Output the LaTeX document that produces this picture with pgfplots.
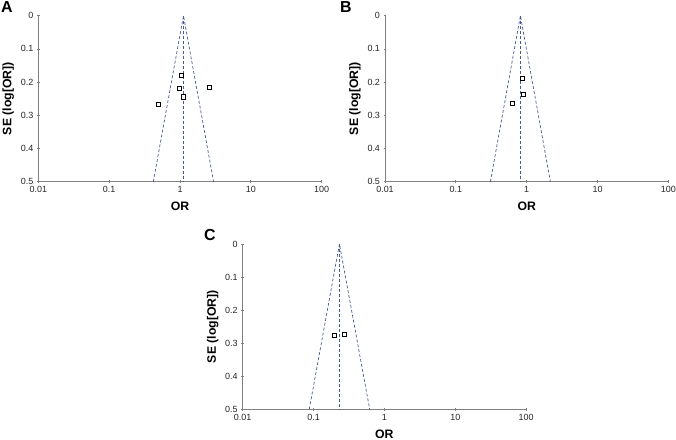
\documentclass[border=0pt]{standalone}
\usepackage{pgfplots}
\pgfplotsset{compat=1.18}
\usepackage{fontspec}
\setmainfont{Liberation Sans}
\definecolor{funnel}{RGB}{70,90,140}
\definecolor{axgray}{RGB}{128,128,128}
\tikzset{
 funnelline/.style={funnel, line width=0.7pt, dash pattern=on 3bp off 2bp},
 studypts/.style={only marks, mark=square*, mark size=2.1bp, mark options={fill=white, draw=black, line width=0.6pt, solid}},
}
\pgfplotsset{/pgfplots/funnelax/.style={
 scale only axis, width=283.4bp, height=166bp,
 xmin=0.01, xmax=100, ymin=0, ymax=0.5, y dir=reverse,
 axis lines=left, axis line style={-, axgray, line width=0.8pt},
 xtick={0.01,0.1,1,10,100}, xticklabels={0.01,0.1,1,10,100},
 ytick={0,0.1,0.2,0.3,0.4,0.5}, yticklabels={0,0.1,0.2,0.3,0.4,0.5},
 xminorticks=false, yminorticks=false,
 tick style={axgray, line width=0.8pt}, major tick length=3bp, tick align=center,
 tick label style={font=\fontsize{9}{10}\selectfont, text=black!85},
 xlabel={OR}, ylabel={SE (log[OR])},
 label style={font=\bfseries\fontsize{12.3}{14}\selectfont},
 xlabel style={yshift=-2bp},
 clip=false,
}}
\begin{document}
\begin{tikzpicture}
\useasboundingbox (0,0) rectangle (676bp,440bp);
% Panel A
\begin{semilogxaxis}[funnelax, at={(38.3bp,258.3bp)}, anchor=south west]
\addplot[funnelline] coordinates {(0.42,0.5) (1.12,0) (2.98,0.5)};
\addplot[funnelline] coordinates {(1.12,0) (1.12,0.5)};
\addplot[studypts] coordinates {(1.04,0.180) (0.98,0.219) (1.12,0.244) (2.58,0.215) (0.50,0.266)};
\end{semilogxaxis}
% Panel B
\begin{semilogxaxis}[funnelax, at={(385bp,258.3bp)}, anchor=south west]
\addplot[funnelline] coordinates {(0.307,0.5) (0.815,0) (2.16,0.5)};
\addplot[funnelline] coordinates {(0.815,0) (0.815,0.5)};
\addplot[studypts] coordinates {(0.87,0.189) (0.90,0.237) (0.63,0.265)};
\end{semilogxaxis}
% Panel C
\begin{semilogxaxis}[funnelax, height=165.3bp, at={(242.7bp,30.7bp)}, anchor=south west]
\addplot[funnelline] coordinates {(0.087,0.5) (0.232,0) (0.62,0.5)};
\addplot[funnelline] coordinates {(0.232,0) (0.232,0.5)};
\addplot[studypts] coordinates {(0.195,0.277) (0.274,0.274)};
\end{semilogxaxis}
\node[font=\bfseries\fontsize{16}{18}\selectfont] at (7bp,433bp) {A};
\node[font=\bfseries\fontsize{16}{18}\selectfont] at (346bp,433bp) {B};
\node[font=\bfseries\fontsize{16}{18}\selectfont] at (210bp,205bp) {C};
\end{tikzpicture}
\end{document}
